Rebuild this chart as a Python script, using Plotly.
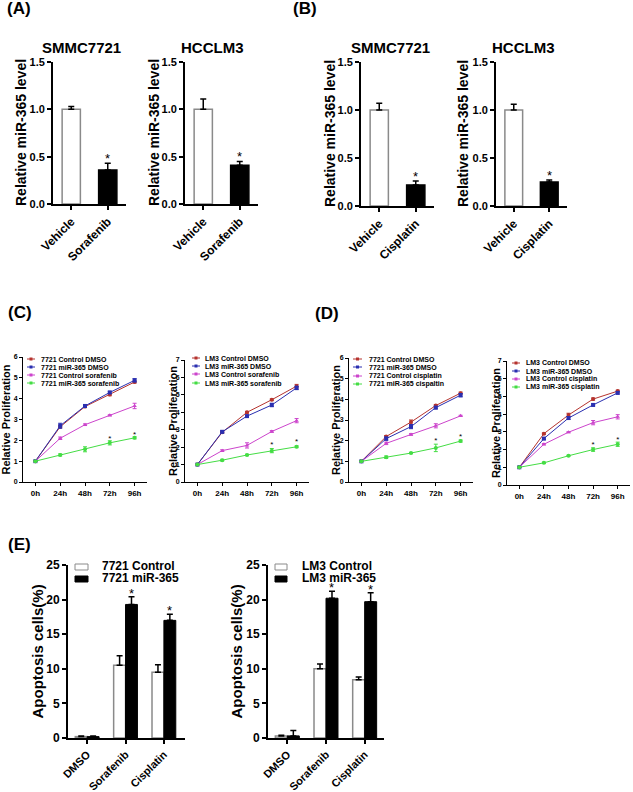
import plotly.graph_objects as go

W, H = 633, 792

# ---------------- data ----------------
sor_cats = ["Vehicle", "Sorafenib"]
cis_cats = ["Vehicle", "Cisplatin"]
a_smmc_mean = [1.00, 0.36]
a_smmc_err = [0.03, 0.07]
a_lm3_mean = [1.00, 0.41]
a_lm3_err = [0.11, 0.04]
b_smmc_mean = [1.00, 0.22]
b_smmc_err = [0.07, 0.04]
b_lm3_mean = [1.00, 0.25]
b_lm3_err = [0.06, 0.02]

times = ["0h", "24h", "48h", "72h", "96h"]
star_times = ["72h", "96h"]

c1_ctrl_dmso = [1.0, 2.65, 3.62, 4.20, 4.80]
c1_mir_dmso = [1.0, 2.70, 3.65, 4.30, 4.88]
c1_ctrl_drug = [1.0, 2.10, 2.75, 3.20, 3.65]
c1_mir_drug = [1.0, 1.30, 1.57, 1.88, 2.12]
c1_err = [[0, 0.05, 0.05, 0.06, 0.05], [0, 0.12, 0.06, 0.05, 0.08],
          [0, 0.06, 0.04, 0.03, 0.13], [0, 0.05, 0.12, 0.10, 0.05]]
c1_star = [2.08, 2.28]

c2_ctrl_dmso = [1.0, 2.85, 4.00, 4.72, 5.50]
c2_mir_dmso = [1.0, 2.88, 3.78, 4.42, 5.40]
c2_ctrl_drug = [1.0, 1.80, 2.10, 2.90, 3.52]
c2_mir_drug = [1.0, 1.25, 1.55, 1.80, 2.02]
c2_err = [[0, 0.05, 0.05, 0.05, 0.10], [0, 0.06, 0.06, 0.10, 0.10],
          [0, 0.05, 0.15, 0.05, 0.12], [0, 0.05, 0.04, 0.12, 0.05]]
c2_star = [2.15, 2.28]

d1_ctrl_dmso = [1.0, 2.20, 2.90, 3.70, 4.30]
d1_mir_dmso = [1.0, 2.10, 2.68, 3.60, 4.20]
d1_ctrl_drug = [1.0, 1.87, 2.30, 2.72, 3.20]
d1_mir_drug = [1.0, 1.20, 1.40, 1.65, 1.98]
d1_err = [[0, 0.05, 0.10, 0.05, 0.05], [0, 0.08, 0.10, 0.06, 0.08],
          [0, 0.06, 0.04, 0.10, 0.03], [0, 0.06, 0.03, 0.18, 0.05]]
d1_star = [1.96, 2.20]

d2_ctrl_dmso = [1.0, 2.90, 3.95, 4.85, 5.30]
d2_mir_dmso = [1.0, 2.62, 3.78, 4.52, 5.20]
d2_ctrl_drug = [1.0, 2.30, 2.98, 3.52, 3.85]
d2_mir_drug = [1.0, 1.25, 1.65, 2.00, 2.30]
d2_err = [[0, 0.04, 0.10, 0.06, 0.05], [0, 0.06, 0.08, 0.06, 0.06],
          [0, 0.04, 0.03, 0.12, 0.12], [0, 0.04, 0.03, 0.10, 0.12]]
d2_star = [2.25, 2.55]

c1_names = ["7721 Control DMSO", "7721 miR-365 DMSO", "7721 Control sorafenib", "7721 miR-365 sorafenib"]
c2_names = ["LM3 Control DMSO", "LM3 miR-365 DMSO", "LM3 Control sorafenib", "LM3 miR-365 sorafenib"]
d1_names = ["7721 Control DMSO", "7721 miR-365 DMSO", "7721 Control cisplatin", "7721 miR-365 cispaltin"]
d2_names = ["LM3 Control DMSO", "LM3 miR-365 DMSO", "LM3 Control cisplatin", "LM3 miR-365 cisplatin"]

e_cats = ["DMSO", "Sorafenib", "Cisplatin"]
e1_names = ["7721 Control", "7721 miR-365"]
e2_names = ["LM3 Control", "LM3 miR-365"]
e1_ctrl = [0.2, 10.5, 9.5]
e1_ctrl_err = [0.1, 1.4, 1.1]
e1_mir = [0.2, 19.3, 17.0]
e1_mir_err = [0.1, 1.1, 0.9]
e2_ctrl = [0.3, 10.0, 8.4]
e2_ctrl_err = [0.1, 0.7, 0.4]
e2_mir = [0.3, 20.2, 19.7]
e2_mir_err = [0.8, 1.0, 1.3]
e_sig = [False, True, True]

# ---------------- styling ----------------
FONT = "Arial, Liberation Sans, sans-serif"
LINE_COLORS = ["#b5332e", "#2a2fb0", "#cc44cc", "#44dd44"]
MARKERS = ["circle", "square", "triangle-up", "circle"]
GREY = "#8a8a8a"

fig = go.Figure()
layout = dict(
    width=W, height=H, margin=dict(l=0, r=0, t=0, b=0, autoexpand=False),
    paper_bgcolor="white", plot_bgcolor="white", showlegend=False,
    barmode="overlay", font=dict(family=FONT, color="black"),
    annotations=[], shapes=[],
)


def px_x(x):
    return x / W


def px_y(y):
    return 1 - y / H


axis_count = [0]


def make_axes(box, yrange, dtick, style, xcat=None, xtickvals=None, xticktext=None, xrange=None,
              yfmt=None):
    axis_count[0] += 1
    n = axis_count[0]
    sfx = "" if n == 1 else str(n)
    x0, x1, yt, yb = box
    big = style == "big"
    lw = 1.8 if big else 1.0
    tickfont = dict(family=FONT, size=11 if big else 7, weight="bold", color="black")
    xa = dict(domain=[px_x(x0), px_x(x1)], anchor="y" + sfx, showline=True, linecolor="black",
              linewidth=lw, ticks="outside", ticklen=4 if big else 3, tickwidth=lw,
              tickcolor="black", showgrid=False, zeroline=False, fixedrange=True,
              tickfont=tickfont, automargin=False)
    if xcat is not None:
        xa.update(type="category", categoryorder="array", categoryarray=xcat, range=xrange)
    else:
        xa.update(tickmode="array", tickvals=xtickvals, ticktext=xticktext, range=xrange)
    ya = dict(domain=[px_y(yb), px_y(yt)], anchor="x" + sfx, showline=True, linecolor="black",
              linewidth=lw, ticks="outside", ticklen=4 if big else 3, tickwidth=lw,
              tickcolor="black", showgrid=False, zeroline=False, range=yrange, dtick=dtick,
              tick0=0, fixedrange=True, tickfont=tickfont, automargin=False)
    if yfmt:
        ya["tickformat"] = yfmt
    layout["xaxis" + sfx] = xa
    layout["yaxis" + sfx] = ya
    return "x" + sfx, "y" + sfx, xa, ya


def ann(text, x, y, size, angle=0, xanchor="center", yanchor="middle", weight="bold"):
    layout["annotations"].append(dict(
        text=text, x=px_x(x), y=px_y(y), xref="paper", yref="paper", showarrow=False,
        textangle=angle, xanchor=xanchor, yanchor=yanchor,
        font=dict(family=FONT, size=size, weight=weight, color="black")))


def star(xr, yr, x, y, size, yshift):
    layout["annotations"].append(dict(
        text="*", x=x, y=y, xref=xr, yref=yr, showarrow=False, xanchor="center",
        yanchor="bottom", yshift=yshift, borderpad=0,
        font=dict(family=FONT, size=size, color="black")))


# ---------------- panels A & B ----------------
ab_panels = [
    ((53, 126, 62, 204), sor_cats, a_smmc_mean, a_smmc_err, "SMMC7721", 82, 21),
    ((185, 258, 62, 204), sor_cats, a_lm3_mean, a_lm3_err, "HCCLM3", 213, 154),
    ((361, 434, 62, 206), cis_cats, b_smmc_mean, b_smmc_err, "SMMC7721", 390, 330),
    ((496, 567, 62, 206), cis_cats, b_lm3_mean, b_lm3_err, "HCCLM3", 523, 463),
]
for box, cats, mean, err, title, tx, ylx in ab_panels:
    xr, yr, xa, ya = make_axes(box, [0, 1.5], 0.5, "big", xcat=cats, xrange=[-0.5, 1.5], yfmt=".1f")
    xa["tickangle"] = -45
    xa["tickfont"] = dict(family=FONT, size=12, weight="bold", color="black")
    fig.add_trace(go.Bar(
        x=cats, y=mean, width=0.5, xaxis=xr, yaxis=yr,
        marker=dict(color=["white", "black"], line=dict(color=[GREY, "black"], width=1.5)),
        error_y=dict(type="data", array=err, arrayminus=[0] * len(err), symmetric=False,
                     color="black", thickness=1.5, width=3)))
    star(xr, yr, cats[1], mean[1] + err[1], 13, -4)
    ann(title, tx, 48, 15)
    ann("Relative miR-365 level", ylx, (box[2] + box[3]) / 2, 14, angle=-90)

ann("(A)", 5, 9, 17, xanchor="left")
ann("(B)", 291, 9, 17, xanchor="left")

# ---------------- panels C & D ----------------
cd_panels = [
    ((23, 147, 357, 482), [0, 6],
     [c1_ctrl_dmso, c1_mir_dmso, c1_ctrl_drug, c1_mir_drug], c1_err, c1_star, c1_names,
     6, (27, 35, 39, [359, 367, 375, 383])),
    ((185, 309, 360, 482), [0, 7],
     [c2_ctrl_dmso, c2_mir_dmso, c2_ctrl_drug, c2_mir_drug], c2_err, c2_star, c2_names,
     173, (192, 200, 203, [358, 366, 374, 383])),
    ((349, 473, 358, 482), [0, 6],
     [d1_ctrl_dmso, d1_mir_dmso, d1_ctrl_drug, d1_mir_drug], d1_err, d1_star, d1_names,
     336, (353, 362, 367, [359, 367, 376, 384])),
    ((507, 630, 361, 485), [0, 7],
     [d2_ctrl_dmso, d2_mir_dmso, d2_ctrl_drug, d2_mir_drug], d2_err, d2_star, d2_names,
     496, (512, 520, 524, [363, 371, 379, 387])),
]
for box, yrng, series, errs, stars, names, ylx, leg in cd_panels:
    xr, yr, xa, ya = make_axes(box, yrng, 1, "small", xcat=times, xrange=[-0.5, 4.5])
    xa["tickfont"] = dict(family=FONT, size=8, weight="bold", color="black")
    for vals, er, col, sym in zip(series, errs, LINE_COLORS, MARKERS):
        fig.add_trace(go.Scatter(
            x=times, y=vals, xaxis=xr, yaxis=yr, mode="lines+markers",
            line=dict(color=col, width=1), marker=dict(color=col, size=4, symbol=sym),
            error_y=dict(type="data", array=er, color=col, thickness=1, width=2)))
    fig.add_trace(go.Scatter(
        x=star_times, y=stars, xaxis=xr, yaxis=yr, mode="text", text=["*"] * len(stars),
        textposition="middle center", textfont=dict(family=FONT, size=8, color="black")))
    ann("Relative Proliferation", ylx, (box[2] + box[3]) / 2, 11, angle=-90)
    lx0, lx1, tx, rows = leg
    for name, col, ry in zip(names, LINE_COLORS, rows):
        layout["shapes"].append(dict(type="line", xref="paper", yref="paper",
                                     x0=px_x(lx0), x1=px_x(lx1), y0=px_y(ry), y1=px_y(ry),
                                     line=dict(color=col, width=1)))
        mx = (lx0 + lx1) / 2
        layout["shapes"].append(dict(type="rect", xref="paper", yref="paper",
                                     x0=px_x(mx - 1.5), x1=px_x(mx + 1.5),
                                     y0=px_y(ry + 1.5), y1=px_y(ry - 1.5),
                                     line=dict(width=0), fillcolor=col))
        ann(name, tx, ry, 7, xanchor="left")

ann("(C)", 6, 312, 17, xanchor="left")
ann("(D)", 313, 313, 17, xanchor="left")

# ---------------- panel E ----------------
BW = 0.31
e_panels = [
    ((68, 185, 565, 738), [-0.5, 2.55], e1_ctrl, e1_ctrl_err, e1_mir, e1_mir_err, e1_names,
     37, (75, 88, 100)),
    ((268, 384, 565, 738), [-0.5, 2.5], e2_ctrl, e2_ctrl_err, e2_mir, e2_mir_err, e2_names,
     236, (275, 287, 300)),
]
e_pos = list(range(len(e_cats)))
for box, xrng, ctrl, ctrl_err, mir, mir_err, names, ylx, leg in e_panels:
    xr, yr, xa, ya = make_axes(box, [0, 25], 5, "big", xtickvals=e_pos, xticktext=e_cats,
                               xrange=xrng)
    xa["tickangle"] = -45
    xa["tickfont"] = dict(family=FONT, size=11, weight="bold", color="black")
    ya["tickfont"] = dict(family=FONT, size=12, weight="bold", color="black")
    fig.add_trace(go.Bar(
        x=e_pos, y=ctrl, width=BW, offset=-BW, xaxis=xr, yaxis=yr,
        marker=dict(color="white", line=dict(color=GREY, width=1.5)),
        error_y=dict(type="data", array=ctrl_err, arrayminus=[0] * 3, symmetric=False,
                     color="black", thickness=1.5, width=3)))
    fig.add_trace(go.Bar(
        x=e_pos, y=mir, width=BW, offset=0, xaxis=xr, yaxis=yr,
        marker=dict(color="black", line=dict(color="black", width=1)),
        error_y=dict(type="data", array=mir_err, arrayminus=[0] * 3, symmetric=False,
                     color="black", thickness=1.5, width=3)))
    for p, m, e, s in zip(e_pos, mir, mir_err, e_sig):
        if s:
            star(xr, yr, p + BW / 2, m + e, 13, -5)
    ann("Apoptosis cells(%)", ylx, (box[2] + box[3]) / 2, 15, angle=-90)
    bx0, bx1, tx = leg
    for i, (name, fillc, linec) in enumerate(zip(names, ["white", "black"], [GREY, "black"])):
        ry = 567 + 12 * i
        layout["shapes"].append(dict(type="rect", xref="paper", yref="paper",
                                     x0=px_x(bx0), x1=px_x(bx1), y0=px_y(ry + 3), y1=px_y(ry - 3),
                                     line=dict(color=linec, width=1), fillcolor=fillc))
        ann(name, tx, ry - 1, 12, xanchor="left")

ann("(E)", 6, 544, 17, xanchor="left")

fig.update_layout(**layout)
fig.write_html("out.html", config={"displayModeBar": False},
               post_script="document.body.style.margin='0px';document.body.style.overflow='hidden';")
